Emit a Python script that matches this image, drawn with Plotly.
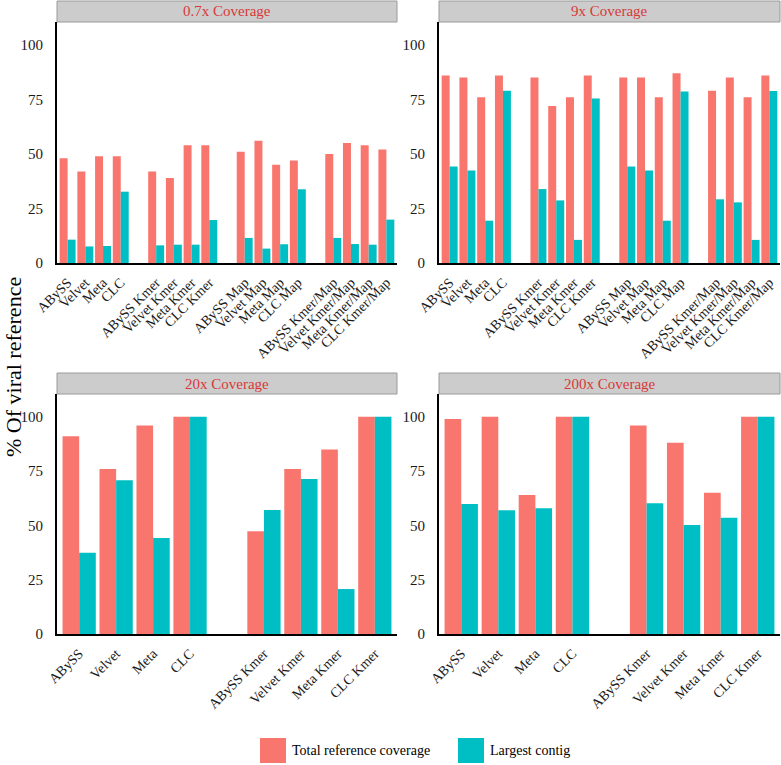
import plotly.graph_objects as go

# ---------------- data ----------------
panel_titles = ["0.7x Coverage", "9x Coverage", "20x Coverage", "200x Coverage"]

cats_top = ["ABySS", "Velvet", "Meta", "CLC", " ",
            "ABySS Kmer", "Velvet Kmer", "Meta Kmer", "CLC Kmer", "  ",
            "ABySS Map", "Velvet Map", "Meta Map", "CLC Map", "   ",
            "ABySS Kmer/Map", "Velvet Kmer/Map", "Meta Kmer/Map", "CLC Kmer/Map"]
assemblers_top = ["ABySS", "Velvet", "Meta", "CLC",
                  "ABySS Kmer", "Velvet Kmer", "Meta Kmer", "CLC Kmer",
                  "ABySS Map", "Velvet Map", "Meta Map", "CLC Map",
                  "ABySS Kmer/Map", "Velvet Kmer/Map", "Meta Kmer/Map", "CLC Kmer/Map"]

cats_bot = ["ABySS", "Velvet", "Meta", "CLC", " ",
            "ABySS Kmer", "Velvet Kmer", "Meta Kmer", "CLC Kmer"]
assemblers_bot = ["ABySS", "Velvet", "Meta", "CLC",
                  "ABySS Kmer", "Velvet Kmer", "Meta Kmer", "CLC Kmer"]

total_07 = [48, 42, 49, 49, 42, 39, 54, 54, 51, 56, 45, 47, 50, 55, 54, 52]
contig_07 = [10.7, 7.6, 7.8, 32.7, 8.1, 8.4, 8.4, 19.7, 11.5, 6.6, 8.6, 33.8, 11.5, 8.7, 8.4, 19.9]

total_9 = [86, 85, 76, 86, 85, 72, 76, 86, 85, 85, 76, 87, 79, 85, 76, 86]
contig_9 = [44.3, 42.4, 19.4, 79, 33.9, 28.7, 10.6, 75.4, 44.3, 42.4, 19.4, 78.6, 29.2, 27.8, 10.6, 78.9]

total_20 = [91, 76, 96, 100, 47.3, 76, 85, 100]
contig_20 = [37.4, 70.8, 44.2, 100, 57.1, 71.4, 20.7, 100]

total_200 = [99, 100, 64, 100, 96, 88, 65, 100]
contig_200 = [59.9, 57, 57.9, 100, 60.2, 50.2, 53.5, 100]

series_names = ["Total reference coverage", "Largest contig"]
colors = ["#F8766D", "#00BFC4"]
y_ticks = [0, 25, 50, 75, 100]

# ---------------- layout helpers ----------------
W, H = 781, 765
FONT = "Liberation Serif"


def px_x(p):
    return p / W


def px_y(p):
    return 1 - p / H


panels = [
    # (x0, x1, strip_top, plot_top, plot_bottom)
    (57, 397, 1, 22, 263),
    (439, 780, 1, 22, 263),
    (57, 397, 373, 394, 634),
    (439, 780, 373, 394, 634),
]

panel_data = [
    (assemblers_top, cats_top, total_07, contig_07),
    (assemblers_top, cats_top, total_9, contig_9),
    (assemblers_bot, cats_bot, total_20, contig_20),
    (assemblers_bot, cats_bot, total_200, contig_200),
]

fig = go.Figure()
shapes = []
annotations = []
layout_axes = {}

for i, ((x0, x1, st, pt, pb), (xs, cats, tot, con)) in enumerate(zip(panels, panel_data)):
    n = i + 1
    xa = "x" if n == 1 else f"x{n}"
    ya = "y" if n == 1 else f"y{n}"
    for name, vals, col in zip(series_names, [tot, con], colors):
        fig.add_trace(go.Bar(
            x=xs, y=vals, name=name, marker=dict(color=col, line=dict(width=0)),
            xaxis=xa, yaxis=ya, showlegend=False, offsetgroup=name,
        ))
    xkey = "xaxis" if n == 1 else f"xaxis{n}"
    ykey = "yaxis" if n == 1 else f"yaxis{n}"
    layout_axes[xkey] = dict(
        domain=[px_x(x0), px_x(x1)], anchor=ya, automargin=False,
        type="category", categoryorder="array", categoryarray=cats,
        range=[-0.6, len(cats) - 0.4],
        showline=True, linecolor="black", linewidth=1.8,
        showgrid=False, zeroline=False, ticks="", tickangle=-45,
        tickfont=dict(family=FONT, size=14, color="#1a1a1a"),
        ticklabelstandoff=4,
    )
    layout_axes[ykey] = dict(
        domain=[px_y(pb), px_y(pt)], anchor=xa, automargin=False,
        range=[0, 110.5], tickvals=y_ticks,
        showline=True, linecolor="black", linewidth=1.8,
        showgrid=False, zeroline=False, ticks="",
        tickfont=dict(family=FONT, size=15, color="#1a1a1a"),
        ticklabelstandoff=9,
    )
    # strip
    shapes.append(dict(type="rect", xref="paper", yref="paper",
                       x0=px_x(x0), x1=px_x(x1), y0=px_y(pt), y1=px_y(st),
                       fillcolor="#CCCCCC", line=dict(color="#9A9A9A", width=1),
                       layer="above"))
    annotations.append(dict(text=panel_titles[i], xref="paper", yref="paper",
                            x=px_x((x0 + x1) / 2), y=px_y((st + pt) / 2),
                            xanchor="center", yanchor="middle", showarrow=False,
                            font=dict(family=FONT, size=15, color="#D93838")))

# y-axis title
annotations.append(dict(text="% Of viral reference", xref="paper", yref="paper",
                        x=px_x(13), y=px_y(367), textangle=-90,
                        xanchor="center", yanchor="middle", showarrow=False,
                        font=dict(family=FONT, size=22, color="black")))

# legend (drawn manually to match key size)
leg_items = [(260, series_names[0], colors[0]), (458, series_names[1], colors[1])]
for lx, name, col in leg_items:
    shapes.append(dict(type="rect", xref="paper", yref="paper",
                       x0=px_x(lx), x1=px_x(lx + 26), y0=px_y(763), y1=px_y(738),
                       fillcolor=col, line=dict(width=0)))
    annotations.append(dict(text=name, xref="paper", yref="paper",
                            x=px_x(lx + 30), y=px_y(750.5), xanchor="left",
                            yanchor="middle", showarrow=False,
                            font=dict(family=FONT, size=14, color="black")))

fig.update_layout(
    template="none",
    width=W, height=H,
    margin=dict(l=0, r=0, t=0, b=0, pad=0, autoexpand=False),
    paper_bgcolor="white", plot_bgcolor="white",
    barmode="group", bargap=0.1, bargroupgap=0,
    showlegend=False,
    shapes=shapes, annotations=annotations,
    font=dict(family=FONT),
    **layout_axes,
)

fig.write_html(
    "out.html",
    config={"displayModeBar": False},
    post_script="document.body.style.margin='0';document.body.style.overflow='hidden';",
)
